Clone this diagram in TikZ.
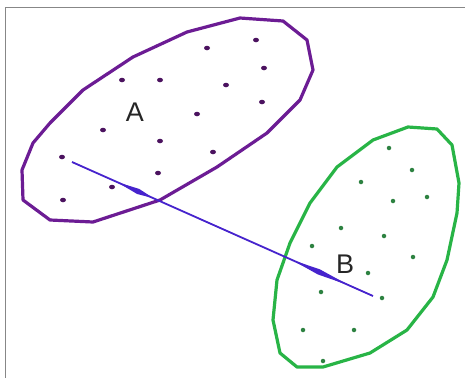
\documentclass[tikz,border=0pt]{standalone}
\usepackage{fontspec}
\setmainfont{Liberation Sans}
\usetikzlibrary{calc,shapes.geometric}
\definecolor{purp}{RGB}{108,28,148}
\definecolor{purpdot}{RGB}{75,18,95}
\definecolor{grn}{RGB}{40,180,70}
\definecolor{grndot}{RGB}{45,130,65}
\definecolor{blu}{RGB}{70,35,205}
\definecolor{frame}{RGB}{135,135,135}
\begin{document}
\begin{tikzpicture}[x=1pt,y=-1pt,
  hull/.style={line width=3.2pt,line join=round},
  pdot/.style={ellipse,fill=purpdot,inner sep=0pt,minimum width=6pt,minimum height=4.5pt},
  gdot/.style={circle,fill=grndot,inner sep=0pt,minimum size=4.5pt},
  lbl/.style={font=\fontsize{27}{27}\selectfont,text=black!85,inner sep=0pt}]
\useasboundingbox (0,0) rectangle (465,378);
\fill[white] (0,0) rectangle (465,378);
% frame
\draw[frame,line width=1.8pt] (465,7.5) -- (5.5,7.5) -- (5.5,378);
% purple hull
\draw[hull,purp] (23,200) -- (22,170) -- (33,143) -- (50,123) -- (83,90) -- (133,57) -- (187,32) -- (240,18) -- (283,21) -- (307,40) -- (313,70) -- (300,100) -- (267,133) -- (217,167) -- (160,200) -- (93,222) -- (50,220) -- cycle;
% green hull
\draw[hull,grn] (408,127) -- (437,129) -- (452,145) -- (459,183) -- (457,213) -- (447,260) -- (433,297) -- (407,330) -- (370,353) -- (323,367) -- (297,367) -- (280,353) -- (273,320) -- (277,280) -- (290,243) -- (310,203) -- (337,167) -- (373,140) -- cycle;
% purple dots
\foreach \x/\y [count=\i] in {207/48,256/40,264/68,122/80,160/80,226/85,262/102,197/114,103/130,160/141,213/152,62/157,158/173,112/187,63/200}
  \node[pdot] (a\i) at (\x,\y) {};
% green dots
\foreach \x/\y [count=\i] in {389/148,412/170,361/182,393/201,427/197,341/228,384/236,312/246,413/257,368/273,321/292,382/298,303/330,354/330,323/361}
  \node[gdot] (b\i) at (\x,\y) {};
% labels
\node[lbl] (A) at (135,112) {A};
\node[lbl] (B) at (345,264) {B};
% connecting line
\coordinate (s) at (72,162);
\coordinate (e) at (373,296);
\draw[blu,line width=1.8pt] (s) -- (e);
\fill[blu] ($(s)!0.15!(e)$) -- ($(s)!0.22!(e)+(-1.1,2.5)$) -- ($(s)!0.27!(e)$) -- ($(s)!0.22!(e)+(1.1,-2.5)$) -- cycle;
\fill[blu] ($(s)!0.73!(e)$) -- ($(s)!0.82!(e)+(-1.1,2.5)$) -- ($(s)!0.92!(e)$) -- ($(s)!0.82!(e)+(1.1,-2.5)$) -- cycle;
\end{tikzpicture}
\end{document}
